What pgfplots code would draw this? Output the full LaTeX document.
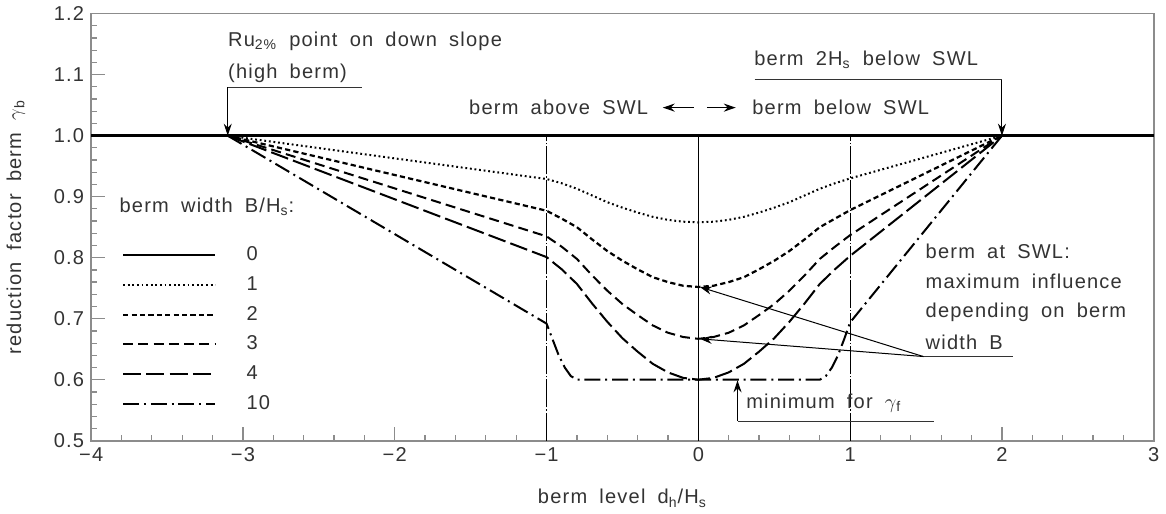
\documentclass[border=0pt]{standalone}
\usepackage{fontspec}
\setmainfont{Liberation Sans}[LetterSpace=6,WordSpace=1.8]
\usepackage{pgfplots}
\pgfplotsset{compat=1.18}
\usetikzlibrary{arrows.meta}

\begin{document}
\begin{tikzpicture}[font=\fontsize{10}{12}\selectfont,
  >={Stealth[length=6pt,width=4pt]}]
\begin{axis}[
  scale only axis, width=530pt, height=213pt,
  xmin=-4, xmax=3, ymin=0.5, ymax=1.2,
  xtick={-4,-3,-2,-1,0,1,2,3},
  xticklabels={−4,−3,−2,−1,0,1,2,3},
  ytick={0.5,0.6,0.7,0.8,0.9,1.0,1.1,1.2},
  yticklabels={0.5,0.6,0.7,0.8,0.9,1.0,1.1,1.2},
  minor x tick num=4, minor y tick num=4,
  tick pos=left, tick align=inside,
  major tick length=7pt, minor tick length=3pt,
  axis line style={black!45, line width=0.8pt},
  every tick/.style={black!45, line width=0.6pt},
  ticklabel style={text=black!80},
  xlabel={berm level d\textsubscript{h}/H\textsubscript{s}},
  ylabel={reduction factor berm $\gamma$\textsubscript{b}},
  xlabel style={at={(axis description cs:0.5,-0.135)}, anchor=center, text=black!80},
  ylabel style={at={(axis description cs:-0.0708,0.5)}, anchor=center, text=black!80},
  legend style={draw=none, fill=none, at={(axis cs:-3.80,0.822)}, anchor=north west,
    inner sep=0pt, row sep=4.4pt, text=black!80, nodes={inner sep=1pt},
    /tikz/every odd column/.append style={column sep=14pt}},
  legend cell align=left,
  legend image code/.code={\draw[#1] (0pt,0pt) -- (46pt,0pt);},
]
% B = 0
\addplot[black, line width=1.2pt] coordinates {(-4,1) (3,1)};
\addlegendentry{0}
% B = 1
\addplot[black, line width=1pt, dash pattern=on 0.9pt off 1.4pt] coordinates {
  (-3.1,1) (-1,0.929) (-0.9,0.922) (-0.8,0.913) (-0.7,0.902) (-0.6,0.891)
  (-0.5,0.882) (-0.4,0.874) (-0.3,0.867) (-0.2,0.862) (-0.1,0.859) (0,0.858)
  (0.1,0.859) (0.2,0.862) (0.3,0.867) (0.4,0.874) (0.5,0.882) (0.6,0.891)
  (0.7,0.902) (0.8,0.913) (0.9,0.922) (1,0.930) (2,1)};
\addlegendentry{1}
% B = 2
\addplot[black, line width=1.1pt, dash pattern=on 2.6pt off 1.6pt] coordinates {
  (-3.1,1) (-1,0.877) (-0.9,0.864) (-0.8,0.850) (-0.7,0.830) (-0.6,0.811)
  (-0.5,0.795) (-0.4,0.781) (-0.3,0.768) (-0.2,0.760) (-0.1,0.754) (0,0.752)
  (0.1,0.754) (0.2,0.760) (0.3,0.768) (0.4,0.781) (0.5,0.795) (0.6,0.811)
  (0.7,0.830) (0.8,0.850) (0.9,0.864) (1,0.878) (2,1)};
\addlegendentry{2}
% B = 3
\addplot[black, line width=1pt, dash pattern=on 5pt off 2.6pt] coordinates {
  (-3.1,1) (-1,0.835) (-0.9,0.818) (-0.8,0.798) (-0.7,0.771) (-0.6,0.746)
  (-0.5,0.724) (-0.4,0.706) (-0.3,0.689) (-0.2,0.677) (-0.1,0.670) (0,0.667)
  (0.1,0.670) (0.2,0.677) (0.3,0.689) (0.4,0.706) (0.5,0.724) (0.6,0.746)
  (0.7,0.771) (0.8,0.798) (0.9,0.818) (1,0.837) (2,1)};
\addlegendentry{3}
% B = 4
\addplot[black, line width=1pt, dash pattern=on 9pt off 2.6pt] coordinates {
  (-3.1,1) (-1,0.801) (-0.9,0.781) (-0.8,0.757) (-0.7,0.725) (-0.6,0.695)
  (-0.5,0.668) (-0.4,0.646) (-0.3,0.626) (-0.2,0.612) (-0.1,0.603) (0,0.600)
  (0.1,0.603) (0.2,0.612) (0.3,0.626) (0.4,0.646) (0.5,0.668) (0.6,0.695)
  (0.7,0.725) (0.8,0.757) (0.9,0.781) (1,0.803) (2,1)};
\addlegendentry{4}
% B = 10
\addplot[black, line width=1pt, dash pattern=on 8pt off 2.4pt on 1pt off 2.4pt] coordinates {
  (-3.1,1) (-1,0.692) (-0.96,0.666) (-0.92,0.640) (-0.88,0.620) (-0.84,0.606)
  (-0.8,0.600) (0.8,0.600) (0.84,0.606) (0.88,0.620) (0.92,0.640) (0.96,0.666)
  (1,0.694) (2,1)};
\addlegendentry{10}
% reference verticals
\addplot[black, line width=0.5pt, dash pattern=on 14pt off 1pt on 0.6pt off 1pt, forget plot]
  coordinates {(-1,0.5) (-1,1)};
\addplot[black, line width=0.5pt, forget plot] coordinates {(0,0.5) (0,1)};
\addplot[black, line width=0.5pt, dash pattern=on 14pt off 1pt on 0.6pt off 1pt, forget plot]
  coordinates {(1,0.5) (1,1)};

% annotations
\begin{scope}[every node/.style={inner sep=0pt, text=black!80}]
\node[anchor=west] at (axis cs:-3.1,1.154) {Ru\textsubscript{2\%} point on down slope};
\node[anchor=west] at (axis cs:-3.1,1.103) {(high berm)};
\draw[black!80, line width=0.5pt] (axis cs:-2.217,1.079) -- (axis cs:-3.1,1.079);
\draw[->, line width=0.5pt] (axis cs:-3.1,1.079) -- (axis cs:-3.1,1.0);

\node[anchor=west] at (axis cs:0.366,1.125) {berm 2H\textsubscript{s} below SWL};
\draw[black!80, line width=0.5pt] (axis cs:0.37,1.092) -- (axis cs:2,1.092);
\draw[->, line width=0.5pt] (axis cs:2,1.092) -- (axis cs:2,1.0);

\node[anchor=east] at (axis cs:-0.328,1.046) {berm above SWL};
\draw[->, line width=0.6pt] (axis cs:-0.03,1.046) -- (axis cs:-0.235,1.046);
\draw[->, line width=0.6pt] (axis cs:0.056,1.046) -- (axis cs:0.247,1.046);
\node[anchor=west] at (axis cs:0.353,1.046) {berm below SWL};

\node[anchor=west] at (axis cs:-3.815,0.884) {berm width B/H\textsubscript{s}:};

\node[anchor=west] at (axis cs:1.495,0.810) {berm at SWL:};
\node[anchor=west] at (axis cs:1.495,0.761) {maximum influence};
\node[anchor=west] at (axis cs:1.495,0.710) {depending on berm};
\node[anchor=west] at (axis cs:1.495,0.662) {width B};
\draw[black!80, line width=0.5pt] (axis cs:2.07,0.638) -- (axis cs:1.482,0.638);
\draw[->, line width=0.5pt] (axis cs:1.482,0.638) -- (axis cs:0.01,0.752);
\draw[->, line width=0.5pt] (axis cs:1.482,0.638) -- (axis cs:0.01,0.667);

\node[anchor=west] at (axis cs:0.313,0.562) {minimum for $\gamma$\textsubscript{f}};
\draw[black!80, line width=0.5pt] (axis cs:1.55,0.532) -- (axis cs:0.258,0.532);
\draw[->, line width=0.5pt] (axis cs:0.258,0.532) -- (axis cs:0.258,0.599);
\end{scope}
\end{axis}
\end{tikzpicture}
\end{document}
